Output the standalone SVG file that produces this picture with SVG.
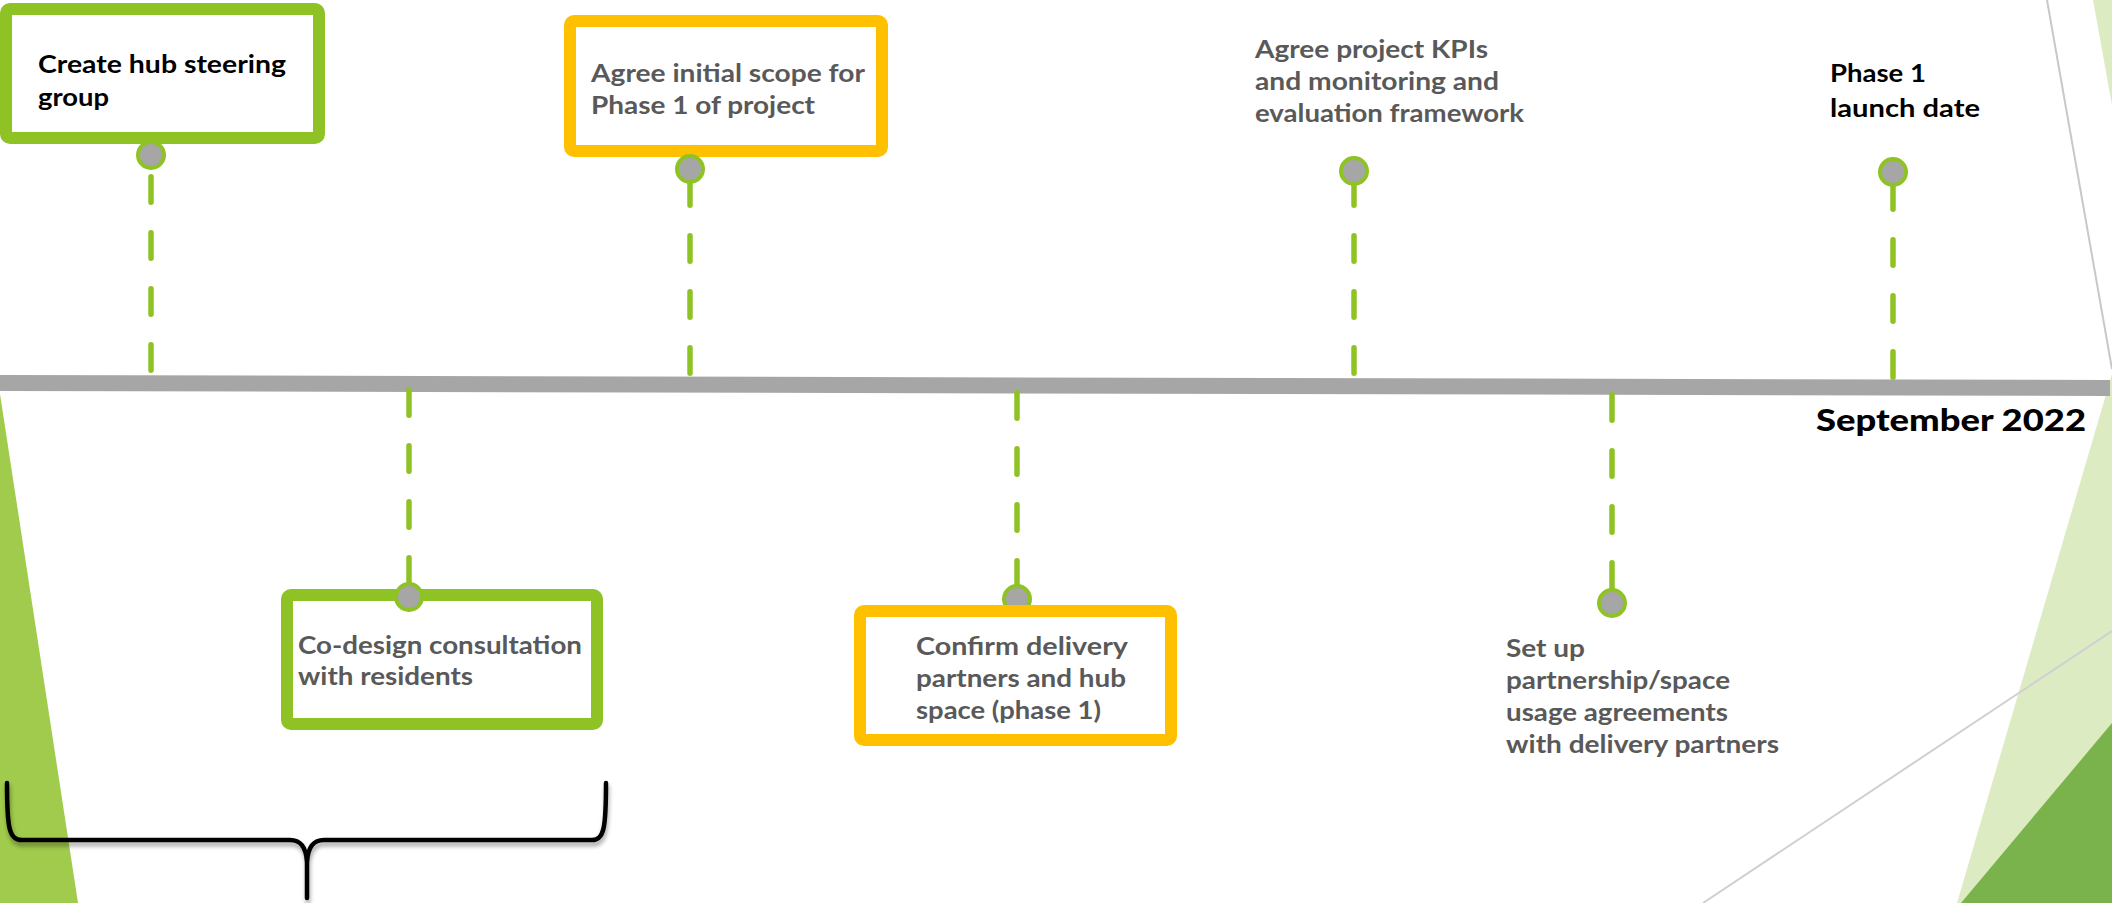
<svg xmlns="http://www.w3.org/2000/svg" width="2112" height="903" viewBox="0 0 2112 903">
<defs>
<style>
.box{fill:#FFFFFF;stroke-width:12}
.g{stroke:#8FC225}
.o{stroke:#FFC000}
.dot{fill:#A6A6A6;stroke:#8FC225;stroke-width:4}
.dash{fill:none;stroke:#8FC225;stroke-width:5.5;stroke-linecap:round;stroke-dasharray:25.5 30.5}
.t{font-family:Lato,"Open Sans","Liberation Sans",sans-serif;font-weight:bold;font-size:24px}
.k{fill:#000000}
.gr{fill:#595959}
</style>
<filter id="sh" x="-5%" y="-20%" width="110%" height="150%">
<feDropShadow dx="1" dy="4" stdDeviation="2" flood-color="#000000" flood-opacity="0.35"/>
</filter>
</defs>
<rect x="0" y="0" width="2112" height="903" fill="#FFFFFF"/>
<g id="decor">
<polygon points="0,394 78,903 0,903" fill="#A0CB4C"/>
<polygon points="2093,0 2112,0 2112,105" fill="#DDEBC2"/>
<polygon points="2112,374 1957,903 2112,903" fill="#DDEBC2"/>
<polygon points="2112,723 1961,903 2112,903" fill="#7AB34B"/>
<line x1="2047" y1="0" x2="2112" y2="369" stroke="#C8C8C8" stroke-width="2"/>
<line x1="2112" y1="631" x2="1703" y2="903" stroke="#D0D0D0" stroke-width="2"/>
</g>
<g id="timeline">
<line x1="0" y1="383" x2="2110" y2="388" stroke="#A6A6A6" stroke-width="16"/>
</g>
<g id="connectors">
<path class="dash" d="M151,370.25 V175"/>
<path class="dash" d="M690,373.25 V178"/>
<path class="dash" d="M1354,373.25 V178"/>
<path class="dash" d="M1893,377.25 V180"/>
<path class="dash" d="M409,389.75 V590"/>
<path class="dash" d="M1017,392.75 V592"/>
<path class="dash" d="M1612,394.75 V596"/>
</g>
<g id="n-steering">
<rect class="box g" x="6" y="9" width="313" height="129" rx="4"/>
<text class="t k" x="38" y="73" textLength="248" lengthAdjust="spacingAndGlyphs">Create hub steering</text>
<text class="t k" x="38" y="106" textLength="71" lengthAdjust="spacingAndGlyphs">group</text>
<circle class="dot" cx="151" cy="155" r="13"/>
</g>
<g id="n-scope">
<rect class="box o" x="570" y="21" width="312" height="130" rx="4"/>
<text class="t gr" x="591" y="82" textLength="274" lengthAdjust="spacingAndGlyphs">Agree initial scope for</text>
<text class="t gr" x="591" y="114" textLength="224" lengthAdjust="spacingAndGlyphs">Phase 1 of project</text>
<circle class="dot" cx="690" cy="169" r="13"/>
</g>
<g id="n-kpis">
<text class="t gr" x="1255" y="58" textLength="233" lengthAdjust="spacingAndGlyphs">Agree project KPIs</text>
<text class="t gr" x="1255" y="90" textLength="244" lengthAdjust="spacingAndGlyphs">and monitoring and</text>
<text class="t gr" x="1255" y="122" textLength="269" lengthAdjust="spacingAndGlyphs">evaluation framework</text>
<circle class="dot" cx="1354" cy="171" r="13"/>
</g>
<g id="n-launch">
<text class="t k" x="1830" y="82" textLength="96" lengthAdjust="spacingAndGlyphs">Phase 1</text>
<text class="t k" x="1830" y="117" textLength="150" lengthAdjust="spacingAndGlyphs">launch date</text>
<circle class="dot" cx="1893" cy="172" r="13"/>
</g>
<g id="n-date">
<text x="1816" y="431" font-family="Lato,'Open Sans','Liberation Sans',sans-serif" font-weight="900" font-size="31" fill="#000000" textLength="270" lengthAdjust="spacingAndGlyphs">September 2022</text>
</g>
<g id="n-codesign">
<rect class="box g" x="287" y="595" width="310" height="129" rx="4"/>
<text class="t gr" x="298" y="654" textLength="284" lengthAdjust="spacingAndGlyphs">Co-design consultation</text>
<text class="t gr" x="298" y="685" textLength="175" lengthAdjust="spacingAndGlyphs">with residents</text>
<circle class="dot" cx="409" cy="597" r="13"/>
</g>
<g id="n-confirm">
<circle class="dot" cx="1017" cy="599" r="13"/>
<rect class="box o" x="860" y="611" width="311" height="129" rx="4"/>
<text class="t gr" x="916" y="655" textLength="212" lengthAdjust="spacingAndGlyphs">Confirm delivery</text>
<text class="t gr" x="916" y="687" textLength="210" lengthAdjust="spacingAndGlyphs">partners and hub</text>
<text class="t gr" x="916" y="719" textLength="185" lengthAdjust="spacingAndGlyphs">space (phase 1)</text>
</g>
<g id="n-setup">
<circle class="dot" cx="1612" cy="603" r="13"/>
<text class="t gr" x="1506" y="657" textLength="79" lengthAdjust="spacingAndGlyphs">Set up</text>
<text class="t gr" x="1506" y="689" textLength="224" lengthAdjust="spacingAndGlyphs">partnership/space</text>
<text class="t gr" x="1506" y="721" textLength="222" lengthAdjust="spacingAndGlyphs">usage agreements</text>
<text class="t gr" x="1506" y="753" textLength="273" lengthAdjust="spacingAndGlyphs">with delivery partners</text>
</g>
<g id="n-brace">
<path d="M7,783 C7,828 9,840 22,840 L290,840 C300,840 306,846 307,862 L307,898 M307,862 C308,846 314,840 324,840 L592,840 C604,840 606,828 606,783" fill="none" stroke="#000000" stroke-width="4.5" stroke-linecap="round" stroke-linejoin="round" filter="url(#sh)"/>
</g>
</svg>
